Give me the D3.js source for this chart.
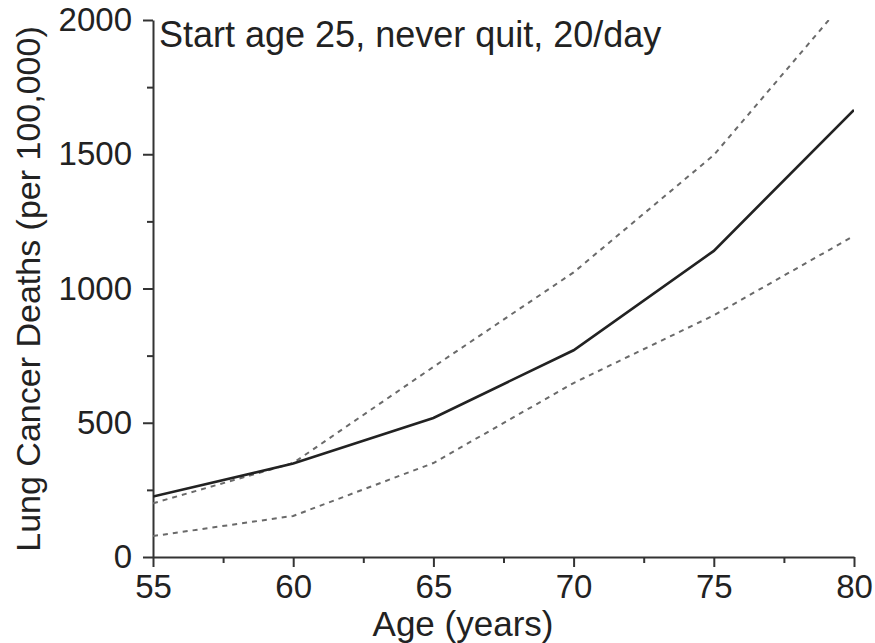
<!DOCTYPE html>
<html>
<head>
<meta charset="utf-8">
<script src="https://cdn.jsdelivr.net/npm/d3@7"></script>
<style>
  body { margin: 0; background: #fff; }
  text { font-family: "Liberation Sans", Arial, sans-serif; fill: #222; }
</style>
</head>
<body>
<svg id="chart" width="875" height="643"></svg>
<script>
// ages on the x axis
var ages = [55, 60, 65, 70, 75, 80];
// lung cancer deaths per 100,000
var deaths = [225, 348, 518, 770, 1140, 1665];
var upperBound = [200, 350, 708, 1060, 1497, 2110];
var lowerBound = [78, 153, 350, 648, 900, 1196];
var xTicks = [55, 60, 65, 70, 75, 80];
var yTicks = [0, 500, 1000, 1500, 2000];

var svg = d3.select("#chart");
var plotLeft = 153, plotRight = 854, plotTop = 20, plotBottom = 557;

var x = d3.scaleLinear().domain([55, 80]).range([plotLeft, plotRight]);
var y = d3.scaleLinear().domain([0, 2000]).range([plotBottom, plotTop]);

svg.append("clipPath").attr("id", "plotclip")
  .append("rect")
  .attr("x", plotLeft).attr("y", plotTop)
  .attr("width", plotRight - plotLeft).attr("height", plotBottom - plotTop);

// minor ticks first
var xMinor = d3.axisBottom(x).tickValues(d3.range(57.5, 80, 5)).tickSize(6).tickFormat("");
var yMinor = d3.axisLeft(y).tickValues(d3.range(250, 2000, 500)).tickSize(6).tickFormat("");

var xAxis = d3.axisBottom(x).tickValues(xTicks).tickSize(10).tickSizeOuter(0).tickPadding(8)
  .tickFormat(d3.format("d"));
var yAxis = d3.axisLeft(y).tickValues(yTicks).tickSize(10).tickSizeOuter(0).tickPadding(11)
  .tickFormat(d3.format("d"));

function styleAxis(g) {
  g.selectAll("path, line").style("stroke", "#333").style("stroke-width", 2);
  g.selectAll("text").style("font-size", "33px").style("fill", "#222")
    .style("font-family", "'Liberation Sans', Arial, sans-serif");
}

svg.append("g").attr("transform", "translate(0," + plotBottom + ")").call(xMinor).call(styleAxis)
  .select(".domain").remove();
svg.append("g").attr("transform", "translate(" + plotLeft + ",0)").call(yMinor).call(styleAxis)
  .select(".domain").remove();
svg.append("g").attr("transform", "translate(0," + plotBottom + ")").call(xAxis).call(styleAxis);
svg.append("g").attr("transform", "translate(" + plotLeft + ",0)").call(yAxis).call(styleAxis);

var line = d3.line()
  .x(function (d, i) { return x(ages[i]); })
  .y(function (d) { return y(d); });

var plot = svg.append("g").attr("clip-path", "url(#plotclip)");

// confidence bounds, dashed
[upperBound, lowerBound].forEach(function (bound) {
  plot.append("path").datum(bound).attr("d", line)
    .style("fill", "none").style("stroke", "#6a6a6a").style("stroke-width", 2)
    .style("stroke-dasharray", "5,5");
});
plot.append("path").datum(deaths).attr("d", line)
  .style("fill", "none").style("stroke", "#222").style("stroke-width", 2.6);

// annotation
svg.append("text").attr("x", 159).attr("y", 47)
  .style("font-size", "36px")
  .text("Start age 25, never quit, 20/day");

// axis titles
svg.append("text").attr("x", 463).attr("y", 636)
  .attr("text-anchor", "middle").style("font-size", "35px")
  .text("Age (years)");

svg.append("text")
  .attr("transform", "translate(40,289) rotate(-90)")
  .attr("text-anchor", "middle").style("font-size", "34px")
  .text("Lung Cancer Deaths (per 100,000)");
</script>
</body>
</html>
